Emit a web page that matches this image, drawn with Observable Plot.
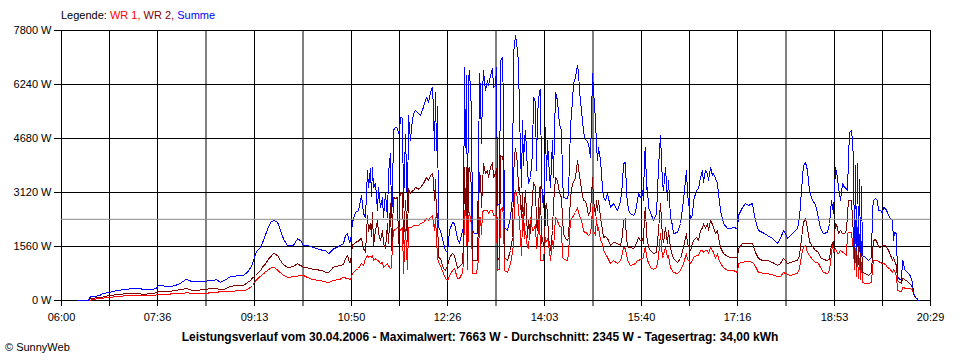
<!DOCTYPE html>
<html>
<head>
<meta charset="utf-8">
<script src="https://cdn.jsdelivr.net/npm/d3@7"></script>
<script src="https://cdn.jsdelivr.net/npm/@observablehq/plot@0.6"></script>
<style>
  body { margin: 0; background: #fff; }
  #wrap { position: relative; width: 960px; height: 360px; font-family: "Liberation Sans", Arial, sans-serif; font-size: 11px; color: #000; }
  #chart { position: absolute; left: 0; top: 0; }
  #legend { position: absolute; left: 61px; top: 9px; white-space: pre; line-height: 13px; }
  #caption { position: absolute; left: 0; top: 330px; width: 960px; text-align: center; font-weight: bold; font-size: 12px; line-height: 14px; }
  #copy { position: absolute; left: 5px; top: 341px; line-height: 13px; }
</style>
</head>
<body>
<div id="wrap">
  <div id="chart"></div>
  <div id="legend"><span>Legende: </span><span style="color:#ff0000">WR 1, </span><span style="color:#800000">WR 2, </span><span style="color:#0000ff">Summe</span></div>
  <div id="caption">Leistungsverlauf vom 30.04.2006 - Maximalwert: 7663 W - Durchschnitt: 2345 W - Tagesertrag: 34,00 kWh</div>
  <div id="copy">© SunnyWeb</div>
</div>
<script>
// Minutes after 06:00 of each reading
const minutes = [
  16,27,28,31,38,41,47,53,57,62,
  70,77,83,90,95,97,102,107,113,118,
  125,130,135,140,145,150,155,159,163,169,
  175,182,186,189,191,194,196,199,202,204,
  207,209,212,216,219,222,226,229,232,236,
  239,242,245,249,256,261,264,267,272,276,
  279,282,284,286,288,289,291,294,297,300,
  302,304,306,307,309,310,311,312,314,316,
  317,319,321,322,324,326,327,329,330,331,
  332,334,336,337,338,339,341,342,344,346,
  347,349,350,352,354,357,359,362,365,367,
  369,371,372,373,374,375,376,377,379,382,
  384,386,388,391,393,396,398,401,402,403,
  404,405,406,407,408,410,411,413,415,416,
  417,418,419,420,421,422,424,426,427,429,
  431,432,434,435,436,438,439,441,442,443,
  446,449,451,452,453,454,456,457,458,460,
  461,462,463,464,466,467,469,471,472,474,
  475,476,478,479,480,481,482,483,484,485,
  486,487,489,491,492,494,496,497,498,500,
  501,502,504,506,507,509,511,512,514,516,
  517,518,520,522,523,525,527,529,530,531,
  532,534,535,536,537,539,541,542,544,546,
  549,552,556,559,561,562,564,565,567,569,
  572,574,576,577,579,581,582,583,584,585,
  586,587,589,592,595,597,599,601,602,604,
  606,607,609,611,612,616,619,622,625,626,
  628,629,631,632,635,637,639,641,642,644,
  646,647,649,651,652,654,656,657,659,662,
  666,669,672,676,677,681,684,687,691,692,
  694,697,701,706,711,716,719,722,724,726,
  729,732,736,738,741,742,744,746,748,751,
  754,756,757,759,762,766,768,770,771,772,
  774,776,777,779,781,783,785,786,787,788,
  790,791,792,793,794,795,796,797,798,799,
  800,801,804,807,810,811,812,814,816,817,
  819,821,822,824,826,828,831,832,833,835,
  836,838,840,841,842,843,845,847,849,851,
  852,854,856,857
];

// Summe (W)
const summe = [
  0,0,96,110,144,193,231,270,290,318,
  337,356,308,308,356,433,420,404,424,481,
  616,549,545,539,560,578,597,530,578,693,
  710,722,819,950,1059,1348,1445,1541,1733,1900,
  2118,2250,2311,2262,2022,1781,1589,1580,1589,1781,
  1733,1589,1600,1560,1493,1450,1444,1348,1493,1540,
  1589,1640,1878,1926,1685,1700,2262,2542,2600,3033,
  2513,2398,3756,3264,3813,3000,3842,3264,3380,2600,
  3264,2687,2976,2398,3091,2398,3669,4247,2398,3000,
  4911,5008,4969,4824,4900,5297,5258,2687,4800,2600,
  5345,4622,5000,5402,5489,5402,5345,5586,5874,5730,
  6018,6162,5500,4333,6000,4333,5600,2109,2022,1647,
  1444,1387,2022,2253,2224,1791,1647,2022,2109,6731,
  4420,6500,2022,6400,6644,5489,2022,1935,1950,1950,
  3756,6558,6000,4536,6009,6644,6067,6356,6211,6500,
  6702,6153,6211,6731,2745,2800,6933,7020,5600,2109,
  2022,2398,2976,7136,7400,7655,7222,6847,5402,3264,
  5200,3900,4622,4911,3756,3380,3553,4247,5874,5730,
  3756,5402,6067,6100,3500,2976,2687,3400,5008,3467,
  4622,4044,3264,4622,3553,6009,5778,5402,5100,4911,
  3553,2976,2950,2947,3100,5008,5778,6269,6442,6789,
  6600,6067,5489,4911,4709,4622,4536,4131,5200,6558,
  6067,5200,4500,4044,4420,4044,3264,2976,2889,3091,
  2687,2800,2600,2850,3380,3958,3987,3091,2600,2513,
  2456,2542,2889,3091,2976,3178,2889,4200,4420,3200,
  3264,2687,2542,2311,2513,3842,4767,3380,3178,3842,
  2889,3467,2398,2167,1935,1965,2224,2889,3756,3091,
  2600,2369,2456,2889,3178,3236,3553,3756,3409,3756,
  3669,3467,3842,3611,3669,3526,3380,3091,2600,2224,
  2080,2080,2109,2080,2456,2687,2802,2745,2802,2600,
  2311,2022,1965,1878,1791,1647,1791,2022,1935,1791,
  1878,1965,2080,2398,3553,3900,3987,3756,3178,2889,
  2770,2513,2369,2080,1935,1965,2224,2889,2700,2513,
  3842,3553,3264,2889,3380,3264,3236,3178,4102,4853,
  4911,4622,4044,1560,3900,1450,3958,1600,3500,1400,
  3300,1300,1242,1156,1242,2600,2889,2947,2889,2600,
  2600,2513,2687,2658,2542,2398,2311,1733,1965,1935,
  700,620,580,1156,1100,900,840,780,700,520,
  231,87,40,0
];

// WR 2 (W)
const wr2 = [
  0,0,38,60,90,96,144,160,173,190,
  202,190,185,193,230,260,255,250,289,310,
  347,300,289,308,330,337,347,308,320,414,
  425,433,520,578,650,722,780,867,1000,1059,
  1200,1252,1367,1300,1156,1030,963,963,990,1059,
  1011,963,960,915,886,860,819,809,963,990,
  1011,1040,1200,1300,1100,1100,1600,1676,1720,1800,
  1502,1400,2456,2000,2224,1850,2542,1590,2022,2311,
  1935,1733,2022,1647,1502,2224,1647,2802,1444,2000,
  2976,2947,2976,1647,2900,3120,3091,1647,2900,1700,
  3236,3091,3150,3178,3264,3220,3264,3380,3553,3467,
  3600,3669,3467,2889,3500,2400,2500,1242,1213,924,
  867,990,1242,1358,1300,924,980,1069,1647,3842,
  2600,3842,1156,3800,3842,3300,1156,1156,1156,1156,
  2500,3700,3553,2687,3300,3958,3669,3756,3553,3842,
  3987,3553,3669,3813,1156,1242,4189,4150,3958,1242,
  1156,1444,1820,3500,4200,4391,3958,3178,3264,2398,
  3091,2022,2800,3178,1820,2311,1935,2976,3409,3264,
  2200,2022,3264,3300,1647,1820,1560,1531,2700,2802,
  2500,1820,1444,2022,2802,3553,3467,3264,3100,2976,
  2398,1935,1800,1733,1820,2976,3380,3409,3553,4044,
  3842,3600,3200,2889,2889,2802,2456,2600,3000,3553,
  2889,2456,2889,2600,2889,2400,2022,1820,1850,1800,
  1589,1676,1647,1589,1878,2311,2369,1733,1531,1531,
  1502,1589,1733,1820,1733,1791,1647,2500,2687,1900,
  1733,1531,1444,1358,1387,2022,2802,1820,1676,2109,
  1647,2022,1502,1300,1213,1098,1213,1531,1935,1647,
  1500,1444,1647,1733,1820,1733,2022,2100,2224,2080,
  2224,2022,2311,2200,2109,1935,2022,1820,1531,1358,
  1270,1242,1242,1242,1502,1647,1647,1647,1647,1560,
  1387,1213,1156,1156,1100,1011,1069,1213,1156,1069,
  1098,1127,1156,1300,2022,2250,2369,2080,1700,1560,
  1444,1416,1387,1242,1184,1156,1200,1600,1676,1531,
  2224,2109,1935,2022,1935,1935,2022,2513,2889,2889,
  2889,2369,1900,1100,2300,980,2100,1050,1900,900,
  1700,809,780,722,809,1358,1733,1762,1647,1560,
  1531,1589,1589,1589,1502,1387,1156,1242,1156,1000,
  578,520,500,640,640,600,580,520,460,380,
  202,80,30,0
];

// WR 1 (W)
const wr1 = [
  0,0,0,30,55,70,77,110,125,130,
  135,154,150,144,160,173,180,185,193,200,
  221,212,212,193,200,241,241,250,260,270,
  275,279,320,380,433,560,626,700,770,830,
  886,930,963,886,800,722,674,674,690,703,
  722,722,680,626,580,560,540,520,578,600,
  620,674,650,640,620,600,780,870,924,1069,
  1000,1213,1300,1250,1280,1250,1300,1156,1200,1156,
  1150,1069,1100,960,1000,1069,1000,924,960,1647,
  2022,2050,2109,2109,2109,2022,2109,780,2050,900,
  2100,2109,2109,2167,2167,2167,2224,2253,2369,2311,
  2400,2456,2224,2022,2398,1800,1242,1100,1000,780,
  636,578,700,867,924,636,640,800,1100,2600,
  2600,2300,900,2400,2542,2200,780,780,780,1000,
  1156,2400,2398,1900,2542,2600,2600,2600,2513,2600,
  2600,2456,2456,2456,867,900,2600,2700,2400,867,
  809,1069,1400,1647,3000,3178,2976,2600,2300,1300,
  2300,2687,1800,2000,1531,1500,2398,2022,2022,2200,
  1500,1647,2700,1156,1156,1156,1156,1500,1820,1700,
  1800,1647,1156,1733,1500,2398,2311,2200,2150,2109,
  1242,1213,1180,1156,1358,2311,2398,2450,2542,2687,
  2542,2450,2311,2022,1965,1950,1878,1935,2200,2687,
  2022,1878,2398,2022,2109,1750,1647,1444,1350,1242,
  1069,1156,1069,1156,1358,1531,1502,1300,1100,1011,
  1040,1069,1156,1156,1184,1213,1242,1500,1531,1300,
  1156,1100,953,900,953,1242,1935,1242,1300,1531,
  1242,1300,953,850,809,780,867,1069,1358,1184,
  1127,1069,1156,1242,1300,1300,1444,1444,1387,1444,
  1444,1358,1531,1444,1387,1213,1358,1213,1069,953,
  867,867,867,809,1069,1098,1127,1127,1098,1069,
  982,809,790,780,740,693,693,809,780,760,
  722,751,790,924,1444,1531,1589,1387,1300,1184,
  1098,1098,1069,953,809,780,867,1358,1618,1387,
  1502,1358,1358,1444,1400,1358,1300,1935,1965,1965,
  1965,1647,1500,900,1500,700,1300,640,1200,600,
  1100,520,491,491,520,953,1156,1156,1156,1127,
  1098,1069,1069,1040,953,924,809,900,850,700,
  300,260,260,360,376,360,360,347,340,290,
  200,80,30,0
];

const timeLabels = ["06:00","07:36","09:13","10:50","12:26","14:03","15:40","17:16","18:53","20:29"];
const yTicks = [0, 1560, 3120, 4680, 6240, 7800];
const average = 2345; // Durchschnitt

const series = [
  {name: "WR 1", values: wr1, color: "#ff0000"},
  {name: "WR 2", values: wr2, color: "#800000"},
  {name: "Summe", values: summe, color: "#0000ff"}
];

const toMin = s => { const [h, m] = s.split(":").map(Number); return h * 60 + m - 360; };
const labelPos = timeLabels.map(toMin);
const labelOf = new Map(labelPos.map((p, i) => [p, timeLabels[i]]));
const gridPos = [];
labelPos.forEach((p, i) => { gridPos.push(p); if (i < labelPos.length - 1) gridPos.push((p + labelPos[i + 1]) / 2); });
const xEnd = labelPos[labelPos.length - 1];

const rows = [];
series.forEach(s => minutes.forEach((m, i) => rows.push({m, w: s.values[i], name: s.name})));

const chart = Plot.plot({
  width: 960,
  height: 360,
  marginTop: 30,
  marginLeft: 61,
  marginRight: 30,
  marginBottom: 60,
  style: {fontFamily: '"Liberation Sans", Arial, sans-serif', fontSize: "11px", background: "transparent", color: "#000", overflow: "visible"},
  x: {domain: [0, xEnd], axis: null, label: null},
  y: {domain: [0, 7800], axis: null, label: null},
  color: {domain: series.map(s => s.name), range: series.map(s => s.color)},
  marks: [
    Plot.ruleY(yTicks, {stroke: "#000", strokeWidth: 1}),
    Plot.ruleX(gridPos, {stroke: "#000", strokeWidth: 1, y1: 0, y2: 7800}),
    Plot.axisY(yTicks, {label: null, tickSize: 7, tickPadding: 3, tickFormat: d => `${d} W`, stroke: "#000", fill: "#000", strokeOpacity: 1}),
    Plot.axisX(gridPos, {label: null, tickSize: 6, tickFormat: () => "", stroke: "#000", strokeOpacity: 1}),
    Plot.axisX(labelPos, {label: null, tickSize: 6, tickPadding: 7, tickFormat: d => labelOf.get(d), stroke: "#000", fill: "#000", strokeOpacity: 1}),
    Plot.line(rows, {x: "m", y: "w", z: "name", stroke: "name", strokeWidth: 1, shapeRendering: "crispEdges"}),
    Plot.ruleY([average], {stroke: "#8c8c8c", strokeWidth: 1})
  ]
});
document.getElementById("chart").appendChild(chart);
if (minutes.length !== summe.length || minutes.length !== wr1.length || minutes.length !== wr2.length) {
  console.error("length mismatch", minutes.length, summe.length, wr1.length, wr2.length);
}
</script>
</body>
</html>
